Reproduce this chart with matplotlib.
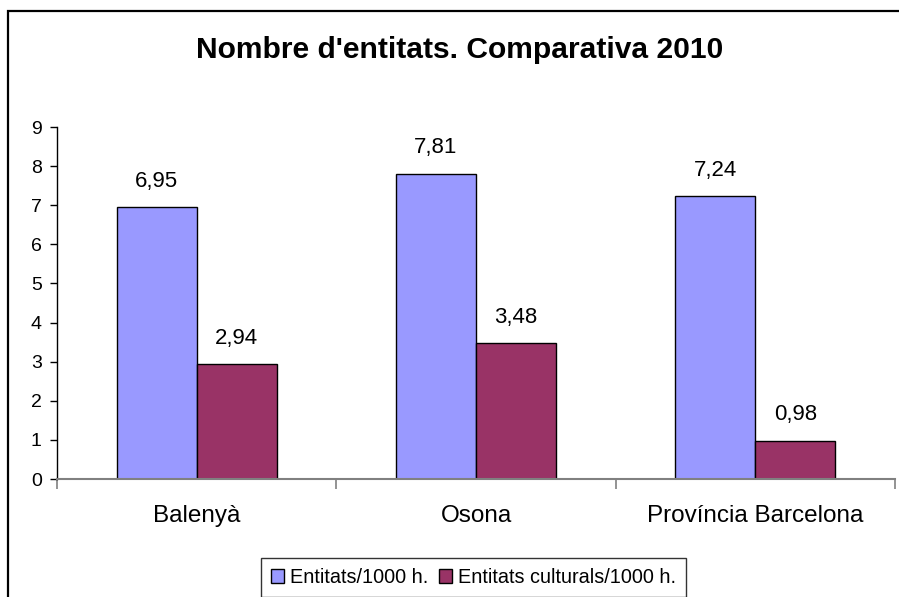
import matplotlib
matplotlib.use("Agg")
import matplotlib.pyplot as plt
import matplotlib.patches as patches
import numpy as np

categories = ["Balenyà", "Osona", "Província Barcelona"]
series_names = ["Entitats/1000 h.", "Entitats culturals/1000 h."]
entitats = [6.95, 7.81, 7.24]
culturals = [2.94, 3.48, 0.98]
label_entitats = ["6,95", "7,81", "7,24"]
label_culturals = ["2,94", "3,48", "0,98"]
yticks = [0, 1, 2, 3, 4, 5, 6, 7, 8, 9]
title = "Nombre d'entitats. Comparativa 2010"

plt.rcParams['font.family'] = ['Liberation Sans', 'DejaVu Sans']

W, H = 899, 597
fig = plt.figure(figsize=(W / 100, H / 100), dpi=100)
fig.patch.set_facecolor("white")

# outer chart frame (left and top visible, rest cropped)
frame = patches.Rectangle((8 / W, -0.2), 1.2, (1 - 11 / H) + 0.2,
                          transform=fig.transFigure, fill=False,
                          edgecolor="black", linewidth=1.6, clip_on=False)
fig.add_artist(frame)

ax = fig.add_axes([57 / W, 1 - 479 / H, (895 - 57) / W, (479 - 127) / H])
ax.set_facecolor("white")

x = np.arange(len(categories))
bw = 0.2865
b1 = ax.bar(x - bw / 2, entitats, bw, color="#9999FF", edgecolor="black",
            linewidth=1.0, label=series_names[0], zorder=3)
b2 = ax.bar(x + bw / 2, culturals, bw, color="#993366", edgecolor="black",
            linewidth=1.0, label=series_names[1], zorder=3)

for rect, lab in zip(b1, label_entitats):
    ax.annotate(lab, (rect.get_x() + rect.get_width() / 2, rect.get_height()),
                xytext=(0, 11), textcoords="offset points", ha="center",
                va="bottom", fontsize=16)
for rect, lab in zip(b2, label_culturals):
    ax.annotate(lab, (rect.get_x() + rect.get_width() / 2, rect.get_height()),
                xytext=(0, 11), textcoords="offset points", ha="center",
                va="bottom", fontsize=16)

ax.set_xlim(-0.5, len(categories) - 0.5)
ax.set_ylim(0, 9)
ax.set_yticks(yticks)
ax.set_yticklabels([str(t) for t in yticks], fontsize=14)
ax.tick_params(axis="y", direction="out", length=5, width=1, pad=6, color="black")

ax.set_xticks(x)
ax.set_xticklabels(categories, fontsize=17.5)
ax.tick_params(axis="x", which="major", length=0, pad=19)
ax.set_xticks(np.arange(-0.5, len(categories)), minor=True)
ax.tick_params(axis="x", which="minor", direction="out", length=7, width=1.2,
               color="#808080")

for s in ["top", "right"]:
    ax.spines[s].set_visible(False)
ax.spines["left"].set_color("black")
ax.spines["left"].set_linewidth(1.0)
ax.spines["bottom"].set_color("#808080")
ax.spines["bottom"].set_linewidth(1.5)
ax.spines["bottom"].set_zorder(4)

fig.text(460 / W, 1 - 50 / H, title, ha="center", va="center",
         fontsize=21.6, fontweight="bold")

leg = fig.legend(handles=[b1, b2], labels=series_names, loc="upper center",
                 bbox_to_anchor=(473.5 / W, 1 - 558 / H), ncol=2, fontsize=14.3,
                 frameon=True, fancybox=False, edgecolor="black",
                 handlelength=0.7, handleheight=0.7, handletextpad=0.3,
                 columnspacing=0.5, borderpad=0.5, borderaxespad=0)
leg.get_frame().set_linewidth(1.0)

fig.savefig("out.png", dpi=100)
